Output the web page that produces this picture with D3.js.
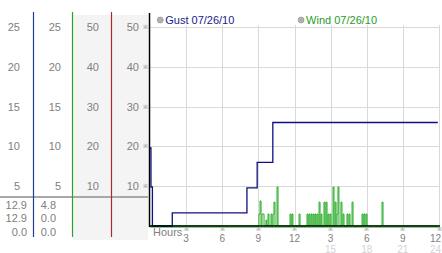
<!DOCTYPE html>
<html>
<head>
<meta charset="utf-8">
<script src="https://cdnjs.cloudflare.com/ajax/libs/d3/7.8.5/d3.min.js"></script>
<style>
  html, body { margin: 0; padding: 0; background: #fff; }
  svg { display: block; font-family: "Liberation Sans", Arial, sans-serif; }
</style>
</head>
<body>
<script>
// gust (step series) in hours / mph
var gustHours  = [0, 0.08, 0.2, 1.85, 8.05, 8.9, 10.2, 23.9];
var gustSpeeds = [19.6, 9.8, 0, 3.3, 9.6, 16, 26, 26];

// wind samples (step series, zeros listed between gusts)
var windHours = [0, 9.05, 9.14, 9.22, 9.3, 9.39, 9.47, 9.63, 9.7, 9.8, 9.88,
  10.05, 10.13, 10.22, 10.3, 10.38, 10.55, 10.63, 11.63, 11.71, 11.79, 11.87,
  12.38, 12.46, 13.04, 13.12, 13.2, 13.28, 13.37, 13.45, 13.54, 13.62, 13.7,
  13.78, 13.87, 13.95, 14.04, 14.12, 14.2, 14.28, 14.45, 14.53, 14.62, 14.7,
  14.78, 14.86, 14.95, 15.03, 15.2, 15.28, 15.37, 15.45, 15.53, 15.61, 15.69,
  15.86, 15.94, 16.03, 16.11, 16.36, 16.44, 16.53, 16.61, 16.78, 16.86, 17.61,
  17.69, 17.77, 17.85, 17.94, 18.02, 19.27, 19.35, 23.9];
var windSpeeds = [0, 3, 6.3, 0, 3, 3, 0, 1.5, 0, 3, 0,
  3, 0, 3, 6, 0, 9.8, 0, 3, 0, 3, 0,
  3, 0, 3, 0, 3, 0, 3, 0, 3, 0, 3,
  0, 3, 0, 6, 0, 3, 0, 6, 0, 6, 0,
  3, 0, 3, 0, 9.8, 0, 6, 0, 3, 9.8, 0,
  6, 0, 3, 0, 3, 0, 3, 0, 6, 0, 3,
  0, 3, 0, 3, 0, 6, 0, 0];

var gustTicks = [5, 10, 15, 20, 25];
var windTicks = [10, 20, 30, 40, 50];
var hourTicks = [3, 6, 9, 12, 15, 18, 21, 24];
var gustNow = ["12.9", "12.9", "0.0"];
var windNow = ["4.8", "0.0", "0.0"];
var legend = [
  { name: "Gust 07/26/10", color: "#1a1a8c", hour: 0.85 },
  { name: "Wind 07/26/10", color: "#2a9a2a", hour: 12.55 }
];

var svg = d3.select("body").append("svg")
    .attr("width", 442)
    .attr("height", 253);

var x = d3.scaleLinear().domain([0, 24]).range([150, 439]);
var y = d3.scaleLinear().domain([0, 50]).range([226, 27]);
var yG = d3.scaleLinear().domain([0, 25]).range([226, 27]);

// shaded side columns
svg.append("rect").attr("x", 73).attr("y", 15).attr("width", 75).attr("height", 225)
    .attr("fill", "#f4f4f4");

// side scale columns
function sideAxis(scale, ticks, xpos) {
  var g = svg.append("g")
      .attr("transform", "translate(" + xpos + ",0)")
      .call(d3.axisLeft(scale).tickValues(ticks).tickSize(0).tickPadding(0));
  g.select(".domain").remove();
  g.selectAll("text")
      .attr("fill", "#808080")
      .style("font-size", "11px")
      .style("font-family", "Liberation Sans, Arial, sans-serif");
}
sideAxis(yG, gustTicks, 20);
sideAxis(yG, gustTicks, 61);
sideAxis(y, windTicks, 99);
sideAxis(y, windTicks, 139);

// separator and current values
svg.append("line").attr("x1", 0).attr("x2", 148).attr("y1", 197).attr("y2", 197)
    .attr("stroke", "#a8a8a8").attr("stroke-width", 2);

svg.selectAll("text.gnow").data(gustNow).enter().append("text")
    .attr("class", "gnow")
    .attr("x", 27).attr("y", function(d, i) { return 208.5 + i * 13.8; })
    .attr("text-anchor", "end").attr("font-size", 11).attr("fill", "#808080")
    .text(function(d) { return d; });
svg.selectAll("text.wnow").data(windNow).enter().append("text")
    .attr("class", "wnow")
    .attr("x", 56).attr("y", function(d, i) { return 208.5 + i * 13.8; })
    .attr("text-anchor", "end").attr("font-size", 11).attr("fill", "#808080")
    .text(function(d) { return d; });

// column divider lines
[[33, "#1f3f9f"], [72, "#2f9f2f"], [111, "#a82a2a"]].forEach(function(c) {
  svg.append("line").attr("x1", c[0] + 0.5).attr("x2", c[0] + 0.5)
      .attr("y1", 12).attr("y2", 237)
      .attr("stroke", c[1]).attr("stroke-width", 1.2);
});

// grid
svg.selectAll("line.hgrid").data(windTicks).enter().append("line")
    .attr("class", "hgrid")
    .attr("x1", 150).attr("x2", 440)
    .attr("y1", function(d) { return Math.round(y(d)) + 0.5; })
    .attr("y2", function(d) { return Math.round(y(d)) + 0.5; })
    .attr("stroke", "#d9d9d9");
svg.selectAll("line.vgrid").data(hourTicks).enter().append("line")
    .attr("class", "vgrid")
    .attr("x1", function(d) { return Math.round(x(d)) + 0.5; })
    .attr("x2", function(d) { return Math.round(x(d)) + 0.5; })
    .attr("y1", 25).attr("y2", 226)
    .attr("stroke", "#d9d9d9");

// little tick marks
svg.selectAll("text.ymark").data(windTicks).enter().append("text")
    .attr("class", "ymark")
    .attr("x", 145).attr("y", function(d) { return y(d) + 2; })
    .attr("text-anchor", "middle").attr("font-size", 6).attr("fill", "#888")
    .text("\u203B");
svg.selectAll("text.xmark").data(hourTicks).enter().append("text")
    .attr("class", "xmark")
    .attr("x", function(d) { return x(d); }).attr("y", 231)
    .attr("text-anchor", "middle").attr("font-size", 6).attr("fill", "#888")
    .text("\u203B");

// x labels
function lastAnchor(d) { return d === 24 ? "end" : "middle"; }
function lastX(d) { return d === 24 ? 441 : x(d); }
svg.selectAll("text.xlab").data(hourTicks).enter().append("text")
    .attr("class", "xlab")
    .attr("x", lastX).attr("y", 242)
    .attr("text-anchor", lastAnchor).attr("font-size", 10).attr("fill", "#808080")
    .text(function(d) { return d > 12 ? d - 12 : d; });
svg.selectAll("text.xlab2").data(hourTicks.filter(function(d) { return d > 12; }))
    .enter().append("text")
    .attr("class", "xlab2")
    .attr("x", lastX).attr("y", 252.5)
    .attr("text-anchor", lastAnchor).attr("font-size", 10).attr("fill", "#d4d4d4")
    .text(function(d) { return d; });
svg.append("text").attr("x", 153).attr("y", 236)
    .attr("font-size", 11).attr("fill", "#808080").text("Hours");

// series
var line = d3.line().curve(d3.curveStepAfter);
svg.append("line").attr("x1", 150).attr("x2", 440).attr("y1", 227.5).attr("y2", 227.5)
    .attr("stroke", "#7fd07f").attr("stroke-width", 1);
svg.append("path")
    .attr("d", line(windHours.map(function(h, i) { return [x(h), y(windSpeeds[i])]; })))
    .attr("fill", "none").attr("stroke", "#22aa22").attr("stroke-width", 1);
svg.append("path")
    .attr("d", line(gustHours.map(function(h, i) { return [x(h), y(gustSpeeds[i])]; })))
    .attr("fill", "none").attr("stroke", "#101080").attr("stroke-width", 1.3);

// axes frame
svg.append("line").attr("x1", 149.5).attr("x2", 149.5).attr("y1", 13).attr("y2", 227)
    .attr("stroke", "#000").attr("stroke-width", 1.5);
svg.append("line").attr("x1", 149).attr("x2", 440).attr("y1", 226).attr("y2", 226)
    .attr("stroke", "#000").attr("stroke-width", 1.5);

// legend
var lg = svg.selectAll("g.legend").data(legend).enter().append("g").attr("class", "legend");
lg.append("circle")
    .attr("cx", function(d) { return x(d.hour); }).attr("cy", 20).attr("r", 3)
    .attr("fill", "#b0b0b0").attr("stroke", "#909090").attr("stroke-width", 0.6);
lg.append("text")
    .attr("x", function(d) { return x(d.hour) + 5; }).attr("y", 24)
    .attr("font-size", 11).attr("fill", function(d) { return d.color; })
    .text(function(d) { return d.name; });
</script>
</body>
</html>
